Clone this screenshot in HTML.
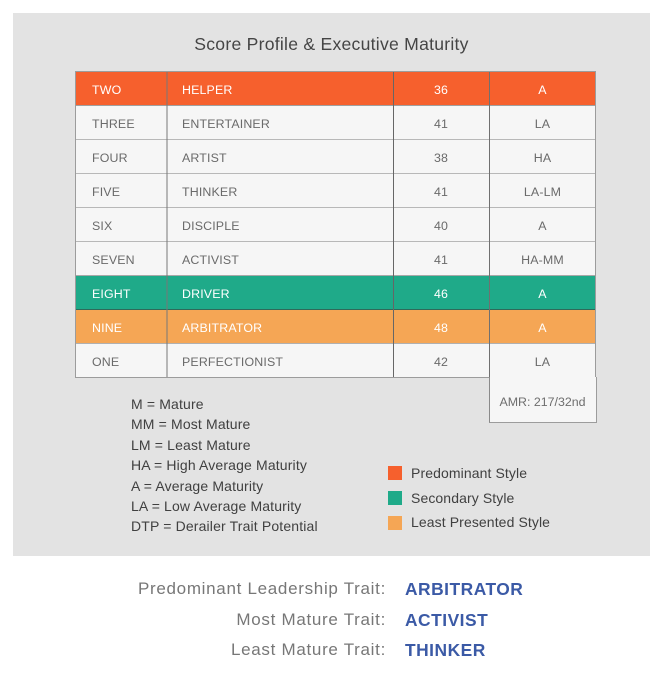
<!DOCTYPE html>
<html>
<head>
<meta charset="utf-8">
<style>
  html,body{margin:0;padding:0;background:#fff;}
  body{width:664px;height:679px;position:relative;overflow:hidden;font-family:"Liberation Sans",sans-serif;}
  .panel{position:absolute;left:13px;top:13px;width:637px;height:543px;background:#e3e3e3;}
  .title{position:absolute;left:13px;width:637px;top:33px;height:22px;line-height:22px;text-align:center;font-size:17.6px;letter-spacing:0.25px;color:#454545;}
  .row{position:absolute;left:76px;width:520px;height:34px;background:#f6f6f6;}
  .c{position:absolute;top:1.5px;height:34px;line-height:34px;font-size:12.4px;letter-spacing:0.15px;color:#6a6a6a;white-space:nowrap;}
  .c1{left:16px;}
  .c2{left:106px;}
  .c3{left:317px;width:96px;text-align:center;}
  .c4{left:413px;width:107px;text-align:center;}
  .w .c{color:#fff;}
  .hl{position:absolute;left:76px;width:520px;height:1.5px;background:#b8b8b8;}
  .vl{position:absolute;top:71px;height:306px;}
  .leg{position:absolute;left:131px;top:394px;font-size:14px;letter-spacing:0.15px;line-height:20.4px;color:#404040;white-space:nowrap;}
  .sq{position:absolute;left:388px;width:14px;height:14px;}
  .sl{position:absolute;left:411px;font-size:14px;letter-spacing:0.1px;color:#404040;height:20px;line-height:20px;white-space:nowrap;}
  .bl{position:absolute;right:278px;font-size:17px;letter-spacing:0.7px;color:#777;height:24px;line-height:24px;white-space:nowrap;text-align:right;}
  .bv{position:absolute;left:405px;font-size:17.4px;letter-spacing:0.5px;font-weight:bold;color:#3b5aa6;height:24px;line-height:24px;white-space:nowrap;}
</style>
</head>
<body>
<div class="panel"></div>
<div class="title">Score Profile &amp; Executive Maturity</div>

<div class="row w" style="top:71px;background:#f6602d;"><span class="c c1">TWO</span><span class="c c2">HELPER</span><span class="c c3">36</span><span class="c c4">A</span></div>
<div class="row" style="top:105px;"><span class="c c1">THREE</span><span class="c c2">ENTERTAINER</span><span class="c c3">41</span><span class="c c4">LA</span></div>
<div class="row" style="top:139px;"><span class="c c1">FOUR</span><span class="c c2">ARTIST</span><span class="c c3">38</span><span class="c c4">HA</span></div>
<div class="row" style="top:173px;"><span class="c c1">FIVE</span><span class="c c2">THINKER</span><span class="c c3">41</span><span class="c c4">LA-LM</span></div>
<div class="row" style="top:207px;"><span class="c c1">SIX</span><span class="c c2">DISCIPLE</span><span class="c c3">40</span><span class="c c4">A</span></div>
<div class="row" style="top:241px;"><span class="c c1">SEVEN</span><span class="c c2">ACTIVIST</span><span class="c c3">41</span><span class="c c4">HA-MM</span></div>
<div class="row w" style="top:275px;background:#1faa89;"><span class="c c1">EIGHT</span><span class="c c2">DRIVER</span><span class="c c3">46</span><span class="c c4">A</span></div>
<div class="row w" style="top:309px;background:#f5a655;"><span class="c c1">NINE</span><span class="c c2">ARBITRATOR</span><span class="c c3">48</span><span class="c c4">A</span></div>
<div class="row" style="top:343px;"><span class="c c1">ONE</span><span class="c c2">PERFECTIONIST</span><span class="c c3">42</span><span class="c c4">LA</span></div>

<!-- horizontal lines -->
<div class="hl" style="top:104.5px;background:#a0a0a0;"></div>
<div class="hl" style="top:138.5px;"></div>
<div class="hl" style="top:172.5px;"></div>
<div class="hl" style="top:206.5px;"></div>
<div class="hl" style="top:240.5px;"></div>
<div class="hl" style="top:274.5px;background:#a8a8a8;"></div>
<div class="hl" style="top:308.5px;background:#2f6a5a;height:1px;"></div>
<div class="hl" style="top:342.5px;background:#b0b0b0;"></div>

<!-- vertical lines -->
<div class="vl" style="left:166px;width:2px;background:rgba(120,120,120,0.5);"></div>
<div class="vl" style="left:393px;width:1px;background:#666;"></div>
<div class="vl" style="left:489px;width:1px;background:#707070;"></div>

<!-- outer border -->
<div style="position:absolute;left:75px;top:70.5px;width:519px;height:305px;border:1.5px solid #9c9c9c;"></div>

<!-- AMR box -->
<div style="position:absolute;left:489px;top:377px;width:105.5px;height:44.5px;background:#f6f6f6;border-left:1px solid #8a8a8a;border-right:1.5px solid #9c9c9c;border-bottom:1.5px solid #9c9c9c;"></div>
<div style="position:absolute;left:489px;top:391px;width:107px;height:22px;line-height:22px;text-align:center;font-size:12.4px;color:#6e6e6e;">AMR: 217/32nd</div>

<div class="leg">M = Mature<br>MM = Most Mature<br>LM = Least Mature<br>HA = High Average Maturity<br>A = Average Maturity<br>LA = Low Average Maturity<br>DTP = Derailer Trait Potential</div>

<div class="sq" style="top:466px;background:#f6602d;"></div>
<div class="sl" style="top:463px;">Predominant Style</div>
<div class="sq" style="top:491px;background:#1faa89;"></div>
<div class="sl" style="top:488px;">Secondary Style</div>
<div class="sq" style="top:516px;background:#f5a655;"></div>
<div class="sl" style="top:512px;">Least Presented Style</div>

<div class="bl" style="top:577px;">Predominant Leadership Trait:</div>
<div class="bv" style="top:577px;">ARBITRATOR</div>
<div class="bl" style="top:608px;">Most Mature Trait:</div>
<div class="bv" style="top:608px;">ACTIVIST</div>
<div class="bl" style="top:638px;">Least Mature Trait:</div>
<div class="bv" style="top:638px;">THINKER</div>
</body>
</html>
